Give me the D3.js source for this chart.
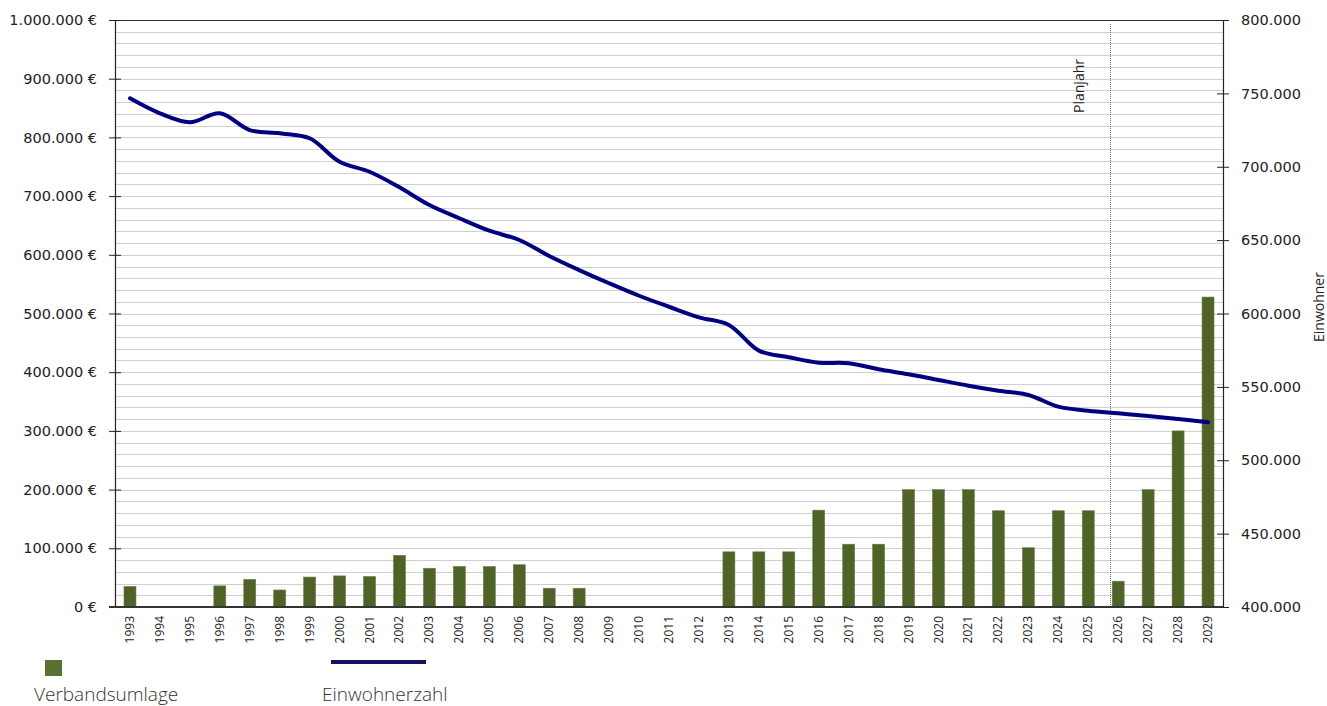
<!DOCTYPE html>
<html>
<head>
<meta charset="utf-8">
<script src="https://cdn.jsdelivr.net/npm/d3@7"></script>
<style>
    body { margin: 0; background: #fff; }
    svg { display: block; }
</style>
</head>
<body>
<script>
var years = ["1993","1994","1995","1996","1997","1998","1999","2000","2001","2002",
    "2003","2004","2005","2006","2007","2008","2009","2010","2011","2012",
    "2013","2014","2015","2016","2017","2018","2019","2020","2021","2022",
    "2023","2024","2025","2026","2027","2028","2029"];

// Verbandsumlage in Euro
var umlage = [35000, 0, 0, 36000, 47000, 29000, 51000, 53000, 52000, 88000,
    66000, 69000, 69000, 72000, 32000, 32000, 0, 0, 0, 0,
    94000, 94000, 94000, 165000, 107000, 107000, 200000, 200000, 200000, 164000,
    101000, 164000, 164000, 44000, 200000, 300000, 528000];

// Einwohnerzahl
var einwohner = [746600, 736400, 730300, 736400, 725000, 722800, 719400, 703400, 696600, 686000,
    673900, 664900, 656400, 650100, 639200, 629600, 620600, 612100, 604600, 597400,
    592200, 574700, 570200, 566500, 566100, 562000, 558600, 554700, 550800, 547400,
    544500, 536500, 533800, 532000, 530200, 528100, 525900];

var leftTicks = [0, 100000, 200000, 300000, 400000, 500000, 600000, 700000, 800000, 900000, 1000000];
var rightTicks = [400000, 450000, 500000, 550000, 600000, 650000, 700000, 750000, 800000];
var planjahr = "2026";

var plotLeft = 115, plotRight = 1223, plotTop = 20, plotBottom = 607;

var svg = d3.select("body").append("svg")
    .attr("width", 1327)
    .attr("height", 706);

var x = d3.scaleBand()
    .domain(years)
    .range([plotLeft, plotRight])
    .paddingInner(0.6)
    .paddingOuter(0.3);

var yL = d3.scaleLinear().domain([0, 1000000]).range([plotBottom, plotTop]);
var yR = d3.scaleLinear().domain([400000, 800000]).range([plotBottom, plotTop]);

var fmt = d3.formatLocale({decimal: ",", thousands: ".", grouping: [3], currency: ["", " €"]});
var num = fmt.format(",.0f");

// gridlines every 20.000
svg.append("g")
    .selectAll("line")
    .data(d3.range(20000, 1000000, 20000))
    .enter()
    .append("line")
    .attr("x1", plotLeft).attr("x2", plotRight)
    .attr("y1", function(d) { return Math.round(yL(d)) + 0.5; })
    .attr("y2", function(d) { return Math.round(yL(d)) + 0.5; })
    .attr("stroke", "#cfcfcf")
    .attr("stroke-width", 1);

// top border
svg.append("line")
    .attr("x1", plotLeft).attr("x2", plotRight)
    .attr("y1", plotTop + 0.5).attr("y2", plotTop + 0.5)
    .attr("stroke", "#333").attr("stroke-width", 1.2);

// bars
var barData = years.map(function(y, i) { return {year: y, value: umlage[i]}; })
    .filter(function(d) { return d.value > 0; });

svg.append("g")
    .selectAll("rect")
    .data(barData)
    .enter()
    .append("rect")
    .attr("x", function(d) { return x(d.year); })
    .attr("width", x.bandwidth())
    .attr("y", function(d) { return yL(d.value); })
    .attr("height", function(d) { return plotBottom - yL(d.value); })
    .attr("fill", "#4f6228")
    .attr("stroke", "#6c7f48")
    .attr("stroke-width", 0.6);

// Planjahr marker
var px = Math.round(x(planjahr)) - 1.5;
svg.append("line")
    .attr("x1", px).attr("x2", px)
    .attr("y1", 24).attr("y2", plotBottom)
    .attr("stroke", "#777")
    .attr("stroke-width", 1)
    .attr("stroke-dasharray", "1,1");

svg.append("text")
    .attr("transform", "translate(" + (x(planjahr) - 28) + ",86) rotate(-90)")
    .attr("text-anchor", "middle")
    .attr("font-family", "Open Sans")
    .attr("font-size", 14)
    .attr("fill", "#222")
    .text("Planjahr");

// Einwohner line
var line = d3.line()
    .x(function(d, i) { return x(years[i]) + x.bandwidth() / 2; })
    .y(function(d) { return yR(d); })
    .curve(d3.curveCatmullRom.alpha(0.5));

svg.append("path")
    .datum(einwohner)
    .attr("d", line)
    .attr("fill", "none")
    .attr("stroke", "#000080")
    .attr("stroke-width", 4)
    .attr("stroke-linecap", "round")
    .attr("stroke-linejoin", "round");

// axes
var axL = svg.append("g")
    .attr("transform", "translate(" + plotLeft + ",0)")
    .call(d3.axisLeft(yL).tickValues(leftTicks).tickSizeInner(6).tickSizeOuter(0).tickPadding(12)
        .tickFormat(function(d) { return num(d) + " €"; }));
axL.selectAll(".tick line").attr("x1", 6);

var axR = svg.append("g")
    .attr("transform", "translate(" + plotRight + ",0)")
    .call(d3.axisRight(yR).tickValues(rightTicks).tickSizeInner(6).tickSizeOuter(0).tickPadding(12)
        .tickFormat(num));
axR.selectAll(".tick line").attr("x1", -6);

[axL, axR].forEach(function(a) {
    a.select(".domain").attr("stroke", "#222").attr("stroke-width", 1.2);
    a.selectAll(".tick line").attr("stroke", "#222");
    a.selectAll("text")
        .attr("font-family", "DejaVu Sans")
        .attr("font-size", 14.5)
        .attr("fill", "#222");
});

var axX = svg.append("g")
    .attr("transform", "translate(0," + plotBottom + ")")
    .call(d3.axisBottom(x).tickSize(0).tickPadding(0));
axX.select(".domain")
    .attr("d", "M" + (plotLeft - 6) + ",0H" + plotRight)
    .attr("stroke", "#333")
    .attr("stroke-width", 2);
axX.selectAll("text")
    .attr("transform", "translate(4,9) rotate(-90)")
    .attr("text-anchor", "end")
    .attr("dy", 0)
    .attr("y", 0)
    .attr("font-family", "Open Sans")
    .attr("font-size", 12)
    .attr("fill", "#222");

svg.append("text")
    .attr("transform", "translate(1324,307) rotate(-90)")
    .attr("text-anchor", "middle")
    .attr("font-family", "Open Sans")
    .attr("font-size", 14)
    .attr("fill", "#222")
    .text("Einwohner");

// legend
var legend = svg.append("g");
legend.append("rect")
    .attr("x", 45).attr("y", 660)
    .attr("width", 17).attr("height", 16)
    .attr("fill", "#5b7130");
legend.append("text")
    .attr("x", 34).attr("y", 701)
    .attr("font-family", "Open Sans")
    .attr("font-weight", 300)
    .attr("font-size", 19)
    .attr("fill", "#333")
    .text("Verbandsumlage");
legend.append("line")
    .attr("x1", 331).attr("x2", 426)
    .attr("y1", 662).attr("y2", 662)
    .attr("stroke", "#14145e")
    .attr("stroke-width", 4);
legend.append("text")
    .attr("x", 322).attr("y", 701)
    .attr("font-family", "Open Sans")
    .attr("font-weight", 300)
    .attr("font-size", 19)
    .attr("fill", "#333")
    .text("Einwohnerzahl");
</script>
</body>
</html>
